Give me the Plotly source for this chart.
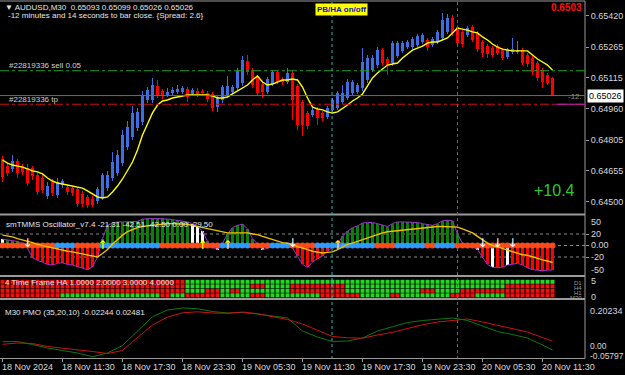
import plotly.graph_objects as go

# ---------------- DATA ----------------
opens = [0.64712,0.64677,0.64663,0.64702,0.64677,0.64667,0.64667,0.64633,0.64618,0.64529,
         0.64598,0.64534,0.64583,0.64573,0.64568,0.64563,0.64539,0.64524,0.64514,0.64504,
         0.64524,0.64568,0.64618,0.64643,0.64692,0.64771,0.64821,0.64865,0.64895,0.65004,
         0.65004,0.65073,0.65049,0.65029,0.65039,0.65044,0.65044,0.65059,0.65034,0.65049,
         0.65049,0.65039,0.65034,0.64969,0.65004,0.65029,0.65044,0.65063,0.65088,0.65197,
         0.65153,0.65118,0.65083,0.65044,0.65083,0.65143,0.65108,0.65093,0.65138,0.65073,
         0.64994,0.64940,0.64930,0.64960,0.64940,0.64920,0.64955,0.64964,0.64994,0.65014,
         0.65039,0.65044,0.65063,0.65103,0.65153,0.65177,0.65251,0.65207,0.65187,0.65222,
         0.65247,0.65266,0.65266,0.65276,0.65291,0.65301,0.65276,0.65291,0.65311,0.65341,
         0.65410,0.65365,0.65341,0.65326,0.65365,0.65336,0.65291,0.65271,0.65261,0.65271,
         0.65251,0.65217,0.65242,0.65242,0.65251,0.65227,0.65212,0.65187,0.65153,0.65128,
         0.65113]
closes = [0.64623,0.64643,0.64702,0.64643,0.64648,0.64593,0.64628,0.64549,0.64559,0.64578,
          0.64544,0.64598,0.64603,0.64549,0.64544,0.64489,0.64489,0.64484,0.64484,0.64563,
          0.64633,0.64633,0.64697,0.64732,0.64831,0.64870,0.64940,0.64945,0.65029,0.65054,
          0.65078,0.65029,0.65024,0.65044,0.65054,0.65059,0.65063,0.65019,0.65054,0.65034,
          0.65039,0.65009,0.64964,0.65019,0.65068,0.65073,0.65068,0.65148,0.65202,0.65143,
          0.65078,0.65039,0.65044,0.65108,0.65143,0.65093,0.65093,0.65138,0.65004,0.64880,
          0.64880,0.64875,0.64955,0.64915,0.64915,0.64964,0.65004,0.65039,0.65039,0.65093,
          0.65093,0.65078,0.65192,0.65212,0.65212,0.65251,0.65187,0.65172,0.65286,0.65286,
          0.65286,0.65291,0.65306,0.65321,0.65326,0.65266,0.65306,0.65341,0.65400,0.65410,
          0.65336,0.65286,0.65281,0.65360,0.65301,0.65256,0.65237,0.65232,0.65227,0.65237,
          0.65212,0.65251,0.65256,0.65251,0.65187,0.65182,0.65143,0.65113,0.65093,0.65088,
          0.65026]
highs = [0.64727,0.64692,0.64732,0.64712,0.64687,0.64687,0.64677,0.64643,0.64633,0.64598,
         0.64613,0.64618,0.64613,0.64588,0.64578,0.64573,0.64554,0.64534,0.64529,0.64573,
         0.64643,0.64653,0.64747,0.64757,0.64856,0.64900,0.64975,0.64965,0.65049,0.65068,
         0.65113,0.65103,0.65059,0.65063,0.65068,0.65078,0.65073,0.65068,0.65063,0.65063,
         0.65059,0.65049,0.65044,0.65029,0.65078,0.65123,0.65078,0.65163,0.65222,0.65227,
         0.65163,0.65128,0.65093,0.65118,0.65153,0.65153,0.65118,0.65163,0.65148,0.65083,
         0.65004,0.64950,0.64964,0.64969,0.64950,0.64974,0.65014,0.65049,0.65078,0.65108,
         0.65103,0.65088,0.65261,0.65227,0.65227,0.65266,0.65261,0.65217,0.65296,0.65296,
         0.65296,0.65301,0.65316,0.65331,0.65336,0.65311,0.65316,0.65350,0.65434,0.65430,
         0.65424,0.65375,0.65350,0.65370,0.65375,0.65345,0.65301,0.65281,0.65271,0.65281,
         0.65261,0.65261,0.65311,0.65296,0.65261,0.65237,0.65222,0.65197,0.65163,0.65138,
         0.65118]
lows = [0.64598,0.64628,0.64648,0.64618,0.64633,0.64578,0.64608,0.64534,0.64544,0.64514,
        0.64529,0.64519,0.64568,0.64534,0.64529,0.64474,0.64474,0.64469,0.64474,0.64489,
        0.64509,0.64554,0.64603,0.64628,0.64677,0.64757,0.64806,0.64851,0.64880,0.64989,
        0.64989,0.65014,0.65009,0.65019,0.65029,0.65034,0.65034,0.64994,0.65024,0.65019,
        0.65024,0.64994,0.64950,0.64945,0.64989,0.65019,0.65034,0.65049,0.65073,0.65128,
        0.65063,0.65024,0.65014,0.65034,0.65073,0.65083,0.65078,0.65083,0.64905,0.64856,
        0.64826,0.64861,0.64920,0.64880,0.64900,0.64910,0.64945,0.64955,0.64984,0.65004,
        0.65029,0.65034,0.65049,0.65088,0.65143,0.65163,0.65172,0.65128,0.65172,0.65212,
        0.65237,0.65256,0.65256,0.65266,0.65281,0.65247,0.65266,0.65281,0.65301,0.65331,
        0.65321,0.65271,0.65266,0.65316,0.65291,0.65242,0.65217,0.65212,0.65217,0.65227,
        0.65202,0.65207,0.65232,0.65232,0.65177,0.65167,0.65128,0.65098,0.65063,0.65078,
        0.65026]
ma_main = [0.64707,0.64692,0.64682,0.64677,0.64672,0.64663,0.64653,0.64648,0.64638,0.64618,
           0.64603,0.64593,0.64588,0.64583,0.64578,0.64573,0.64568,0.64554,0.64539,0.64524,
           0.64519,0.64524,0.64549,0.64578,0.64613,0.64658,0.64697,0.64757,0.64831,0.64885,
           0.64940,0.64979,0.64999,0.65004,0.65014,0.65019,0.65024,0.65029,0.65029,0.65029,
           0.65029,0.65029,0.65024,0.65014,0.65014,0.65019,0.65034,0.65049,0.65063,0.65078,
           0.65103,0.65123,0.65093,0.65078,0.65083,0.65093,0.65103,0.65103,0.65108,0.65103,
           0.65068,0.65014,0.64969,0.64960,0.64955,0.64945,0.64940,0.64945,0.64960,0.64979,
           0.64999,0.65014,0.65034,0.65073,0.65113,0.65138,0.65157,0.65177,0.65182,0.65187,
           0.65212,0.65232,0.65251,0.65261,0.65271,0.65286,0.65291,0.65291,0.65301,0.65311,
           0.65336,0.65360,0.65355,0.65350,0.65341,0.65336,0.65316,0.65301,0.65281,0.65266,
           0.65256,0.65251,0.65247,0.65247,0.65247,0.65247,0.65227,0.65207,0.65192,0.65177,
           0.65153]

price_ticks = [0.64500, 0.64655, 0.64805, 0.64960, 0.65115, 0.65265, 0.65420]
sell_level = 0.65149
tp_level = 0.64983
bid_price = 0.65026

osc_hist = [11,10,8,7,3,-5,-21,-26,-29,-33,
            -34,-31,-30,-33,-34,-37,-39,-42,-37,-20,
            12,35,39,41,41,41,41,42,46,47,
            47,47,47,46,45,44,43,41,38,33,
            25,7,-3,-7,4,20,31,35,37,29,
            12,2,-7,-5,-2,2,2,0,-4,-18,
            -33,-38,-29,-23,-18,-10,-3,2,16,25,
            31,34,39,40,40,38,35,33,38,41,
            41,41,41,40,38,37,35,38,43,44,
            43,20,4,2,-2,-7,-20,-33,-38,-38,
            -38,-34,-33,-31,-34,-39,-42,-43,-44,-43,
            -42.5]
osc_white_bars = [0, 38, 39, 40, 43, 52, 53, 92, 95, 98, 101]
osc_signal = [18,17,15,12,10,7,5,2,0,-2,
              -4,-7,-8,-10,-11,-13,-15,-16,-18,-20,
              -14,-7,2,10,18,24,28,31,33,34,
              36,37,38,38,38,38,38,37,35,33,
              32,29,27,25,23,22,22,22,22,22,
              20,19,16,13,10,7,5,4,2,-2,
              -4,-7,-10,-12,-13,-12,-11,-7,-2,2,
              4,7,10,13,16,20,22,24,25,25,
              26,28,29,30,31,32,32,33,33,33,
              33,32,29,26,22,16,10,4,0,-2,
              -5,-8,-11,-14,-16,-17,-20,-22,-25,-27,
              -29.5]
# zero-line state dots: runs of (colour code, bar count)
osc_dot_runs = [("O",11),("B",4),("O",5),("B",12),("O",12),("B",6),("O",4),("B",4),
                ("O",5),("B",12),("O",4),("B",6),("O",2),("B",4),("O",20)]
osc_up_arrows = [20, 40, 45, 67]
osc_down_arrows = [5, 58, 96, 99, 102]
osc_level_values = [20, 0, -20]
osc_labels = ["50", "20", "0.00", "-20", "-50"]

# 4 time-frame HA rows, run-length (colour, bars)
ha_rows = [
    [("R",37),("G",74)],
    [("R",37),("G",13),("R",3),("G",5),("R",11),("G",32),("R",10)],
    [("R",37),("G",4),("R",3),("G",2),("R",2),("G",10),("R",11),("G",15),("R",3),("G",5),("R",19)],
    [("R",12),("G",20),("R",2),("G",3),("R",7),("G",6),("R",3),("G",11),("R",8),("G",6),
     ("R",2),("G",10),("R",5),("G",6),("R",10)],
]

pmo_bars = [0,3,6,9,12,15,18,21,24,27,30,33,36,39,42,45,48,51,54,57,60,63,66,69,72,75,
            78,81,84,87,90,93,96,99,102,105,108,110]
pmo_line = [0.0217,0.0228,0.0069,-0.0118,-0.0250,-0.0383,-0.0580,-0.0383,0.0015,0.0786,
            0.1545,0.1901,0.2007,0.1970,0.1821,0.1742,0.1768,0.1689,0.1582,0.1476,
            0.0786,0.0467,0.0228,0.0254,0.0414,0.0786,0.1014,0.1237,0.1343,0.1412,
            0.1476,0.1343,0.1051,0.0759,0.0600,0.0414,0.0042,-0.0224]
pmo_signal = [0.0079,0.0148,0.0121,-0.0038,-0.0128,-0.0197,-0.0303,-0.0410,-0.0250,0.0440,
              0.1104,0.1529,0.1752,0.1805,0.1742,0.1726,0.1795,0.1704,0.1550,0.1396,
              0.1157,0.0812,0.0493,0.0424,0.0403,0.0573,0.0716,0.0918,0.1115,0.1263,
              0.1354,0.1423,0.1263,0.1093,0.0929,0.0732,0.0440,0.0248]

x_tick_bars = [0, 12, 24, 36, 48, 60, 72, 84, 96, 108]
x_tick_labels = ["18 Nov 2024", "18 Nov 11:30", "18 Nov 17:30", "18 Nov 23:30", "19 Nov 05:30",
                 "19 Nov 11:30", "19 Nov 17:30", "19 Nov 23:30", "20 Nov 05:30", "20 Nov 11:30"]
vline_bars = [65.9, 91.0]

# ---------------- LAYOUT HELPERS ----------------
W, H = 625, 375
PLOT_R = 585
FONT = "Liberation Sans, Arial, sans-serif"
TXT = "#e6e6e6"
AX = "#d8d8d8"
BORDER = "#9a9a9a"
BLUE = "#3f6ee0"
RED = "#ff0000"


def fx(p):
    return p / W


def fy(p):
    return 1 - p / H


n = len(opens)
idx = list(range(n))
up = [c >= o for o, c in zip(opens, closes)]
cndl_col = [BLUE if u else RED for u in up]

fig = go.Figure()

# wicks + bodies
fig.add_trace(go.Bar(x=idx, y=[h - l for h, l in zip(highs, lows)], base=lows, width=0.2,
                     marker=dict(color=cndl_col, line=dict(width=0)), xaxis="x", yaxis="y",
                     hoverinfo="skip"))
fig.add_trace(go.Bar(x=idx, y=[abs(c - o) for o, c in zip(opens, closes)],
                     base=[min(o, c) for o, c in zip(opens, closes)], width=0.7,
                     marker=dict(color=cndl_col, line=dict(width=0)), xaxis="x", yaxis="y"))
fig.add_trace(go.Scatter(x=idx, y=ma_main, mode="lines", line=dict(color="#ffff00", width=1.4),
                         xaxis="x", yaxis="y"))

# oscillator
hist_col = []
for i, v in enumerate(osc_hist):
    if i in osc_white_bars:
        hist_col.append("#ffffff")
    else:
        hist_col.append("#0a7f0a" if v >= 0 else RED)
fig.add_trace(go.Bar(x=idx, y=osc_hist, width=0.6, marker=dict(color=hist_col, line=dict(width=0)),
                     xaxis="x", yaxis="y2"))
fig.add_trace(go.Scatter(x=idx, y=osc_hist, mode="lines", line=dict(color="#9b30d0", width=1),
                         xaxis="x", yaxis="y2"))
dot_cols = []
for code, cnt in osc_dot_runs:
    dot_cols += ["#ff4a1a" if code == "O" else "#2f9bff"] * cnt
fig.add_trace(go.Scatter(x=idx, y=[0] * n, mode="markers",
                         marker=dict(symbol="circle", size=6, color=dot_cols, line=dict(width=0)),
                         xaxis="x", yaxis="y2"))
fig.add_trace(go.Scatter(x=idx, y=osc_signal, mode="lines", line=dict(color="#f0c000", width=1.4),
                         xaxis="x", yaxis="y2"))
fig.add_trace(go.Scatter(x=osc_up_arrows, y=[0] * len(osc_up_arrows), mode="text", text=["↑"] * len(osc_up_arrows),
                         textfont=dict(color="#ffff00", size=12, family="DejaVu Sans"),
                         xaxis="x", yaxis="y2"))
fig.add_trace(go.Scatter(x=osc_down_arrows, y=[2] * len(osc_down_arrows), mode="text", text=["↓"] * len(osc_down_arrows),
                         textfont=dict(color="#ffffff", size=12, family="DejaVu Sans"),
                         xaxis="x", yaxis="y2"))

# HA 4 time frame
for r, runs in enumerate(ha_rows):
    cols = []
    for code, cnt in runs:
        cols += ["#25d425" if code == "G" else "#f01010"] * cnt
    fig.add_trace(go.Scatter(x=idx, y=[4 - r] * n, mode="markers",
                             marker=dict(symbol="square", size=4, color=cols, line=dict(width=0)),
                             xaxis="x", yaxis="y3"))

# PMO
fig.add_trace(go.Scatter(x=pmo_bars, y=pmo_line, mode="lines", line=dict(color="#0c7a0c", width=1),
                         xaxis="x", yaxis="y4"))
fig.add_trace(go.Scatter(x=pmo_bars, y=pmo_signal, mode="lines", line=dict(color="#c81414", width=1),
                         xaxis="x", yaxis="y4"))

# ---------------- AXES ----------------
ax_common = dict(showgrid=False, zeroline=False, showline=False, side="right", anchor="x",
                 tickfont=dict(family=FONT, size=9, color=AX), ticklen=3,
                 tickcolor=BORDER, fixedrange=True)

shapes = []
annots = []


def text(x, y, s, size=8, color=TXT, anchor="left", **kw):
    annots.append(dict(x=fx(x), y=fy(y), xref="paper", yref="paper", text=s, showarrow=False,
                       xanchor=anchor, yanchor="middle", font=dict(family=FONT, size=size, color=color), **kw))


# borders / separators
for yy, w in [(1, 1), (214.5, 2), (276, 2), (299, 2), (358.5, 1)]:
    shapes.append(dict(type="line", xref="paper", yref="paper", x0=0, x1=fx(PLOT_R), y0=fy(yy), y1=fy(yy),
                       line=dict(color=BORDER, width=w)))
shapes.append(dict(type="line", xref="paper", yref="paper", x0=fx(PLOT_R), x1=fx(PLOT_R), y0=fy(1), y1=fy(358.5),
                   line=dict(color=BORDER, width=1)))

# price lines
shapes.append(dict(type="line", xref="paper", yref="y", x0=0, x1=fx(PLOT_R), y0=sell_level, y1=sell_level,
                   line=dict(color="#1c9c1c", width=1, dash="dashdot")))
shapes.append(dict(type="line", xref="paper", yref="y", x0=0, x1=fx(PLOT_R), y0=tp_level, y1=tp_level,
                   line=dict(color="#d01010", width=1, dash="dashdot")))
shapes.append(dict(type="line", xref="x", yref="y", x0=n - 0.4, x1=116.5, y0=tp_level, y1=tp_level,
                   line=dict(color="#c020c0", width=1)))
shapes.append(dict(type="line", xref="paper", yref="y", x0=0, x1=fx(PLOT_R), y0=bid_price, y1=bid_price,
                   line=dict(color="#6a6a6a", width=1)))
# osc levels
for lv in osc_level_values:
    shapes.append(dict(type="line", xref="paper", yref="y2", x0=0, x1=fx(PLOT_R), y0=lv, y1=lv,
                       line=dict(color="#8a8a8a", width=1, dash="dot"), layer="below"))
# vertical separators
for vb, col in zip(vline_bars, ["#2bb5b5", "#b030c0"]):
    shapes.append(dict(type="line", xref="x", yref="paper", x0=vb, x1=vb, y0=fy(2), y1=fy(358),
                       line=dict(color=col, width=1, dash="dot")))

# text
text(3, 7, "▼ AUDUSD,M30  0.65093 0.65099 0.65026 0.65026")
text(6, 15.5, "-12 minutes and 14 seconds to bar close. {Spread: 2.6}")
text(7, 65.5, "#22819336 sell 0.05", color="#d0d0d0")
text(7, 100, "#22819336 tp", color="#d0d0d0")
text(315, 9, "<b>PB/HA on/off</b>", size=8, color="#1010d0", bgcolor="#ffff00", borderpad=1)
text(584, 8, "<b>0.6503</b>", size=10, color="#ff1010", anchor="right")
text(532, 190, "+10.4", size=16, color="#2ec82e")
text(584, 96, "-12:", size=8, color="#8a8a8a", anchor="right")
text(587, 96, "0.65026", size=9, color="#000000", bgcolor="#ffffff", borderpad=1)

text(4, 224, "smTMMS Oscillator_v7.4 -21.31 -42.51 -42.50 0.00 -29.50")
for lab, yy in zip(osc_labels, [222, 234, 245.5, 257, 270]):
    text(589, yy, lab, size=9, color=AX)

text(3, 282, "4 Time Frame HA 1.0000 2.0000 3.0000 4.0000")
text(589, 281, "5", size=9, color=AX)
text(589, 297, "0", size=9, color=AX)
for lab, yy in zip(["D1", "H4", "H1", "M30"], [283, 288, 293, 298]):
    text(584, yy, lab, size=6, color="#9a9a9a", anchor="right")

text(3, 312, "M30 PMO (35,20,10) -0.02244 0.02481")
text(588, 311, "0.20234", size=9, color=AX)
text(588, 346, "0.00", size=8.5, color=AX)
text(588, 355.5, "-0.05797", size=8.5, color=AX)

for b, lab in zip(x_tick_bars, x_tick_labels):
    annots.append(dict(x=b, y=fy(367), xref="x", yref="paper", text=lab, showarrow=False, xanchor="left",
                       xshift=-3, yanchor="middle", font=dict(family=FONT, size=9, color=AX)))

fig.update_layout(
    width=W, height=H, margin=dict(l=0, r=0, t=0, b=0),
    paper_bgcolor="#000000", plot_bgcolor="#000000",
    showlegend=False, barmode="overlay", bargap=0,
    xaxis=dict(domain=[0, fx(PLOT_R)], range=[-0.5, 116.5], anchor="y4", showgrid=False, zeroline=False,
               showline=False, tickvals=x_tick_bars, showticklabels=False, ticks="outside", ticklen=3,
               tickcolor=BORDER, fixedrange=True),
    yaxis=dict(domain=[fy(214), fy(2)], range=[0.644397, 0.654891], tickvals=price_ticks,
               ticktext=[f"{v:.5f}" for v in price_ticks], ticks="outside", **ax_common),
    yaxis2=dict(domain=[fy(275), fy(216)], range=[-51.3, 51.3], tickvals=[20, 0, -20],
                showticklabels=False, ticks="outside", **ax_common),
    yaxis3=dict(domain=[fy(298), fy(278)], range=[0.4, 4.844], showticklabels=False, ticks="",
                **ax_common),
    yaxis4=dict(domain=[fy(358), fy(300)], range=[-0.06485, 0.24324], showticklabels=False, ticks="",
                **ax_common),
    shapes=shapes, annotations=annots,
)

fig.write_html("out.html")
